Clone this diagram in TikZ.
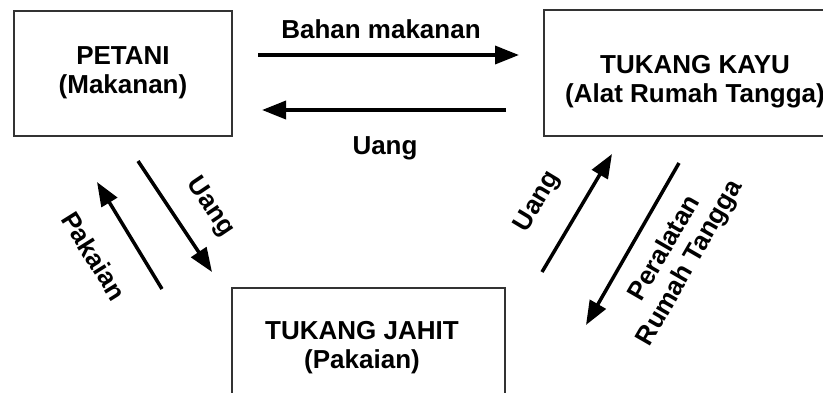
\documentclass[tikz,border=0pt]{standalone}
\usepackage{fontspec}
\setmainfont{Liberation Sans}
\usetikzlibrary{arrows.meta}
\begin{document}
\begin{tikzpicture}[x=1pt,y=-1pt,
  box/.style={draw=black!80, line width=1.4pt, rectangle, inner sep=0pt},
  lbl/.style={font=\fontsize{26}{29}\selectfont\bfseries, align=center, inner sep=0pt},
  flow/.style={line width=3.5pt, -{Triangle[length=24pt,width=18pt]}}]
\clip (0,0) rectangle (823,392);
\useasboundingbox (0,0) rectangle (823,392);
% boxes
\node[box, minimum width=218pt, minimum height=125pt] (petani) at (123,73.5) {};
\node[lbl] (petanitxt) at (123,73) {PETANI\\(Makanan)};
\node[box, minimum width=302pt, minimum height=126pt] (kayu) at (695,73) {};
\node[lbl] (kayutxt) at (695,82) {TUKANG KAYU\\(Alat Rumah Tangga)};
\node[box, minimum width=273pt, minimum height=132pt] (jahit) at (368.5,354) {};
\node[lbl] (jahittxt) at (362,348) {TUKANG JAHIT\\(Pakaian)};
% arrow end points
\coordinate (a1s) at (258,55);  \coordinate (a1e) at (519,55);
\coordinate (a2s) at (506,110); \coordinate (a2e) at (262,110);
\coordinate (a3s) at (138,161); \coordinate (a3e) at (212,272);
\coordinate (a4s) at (162,289); \coordinate (a4e) at (97,182);
\coordinate (a5s) at (542,272); \coordinate (a5e) at (612,154);
\coordinate (a6s) at (679,163); \coordinate (a6e) at (586,325);
\draw[flow] (a1s) -- (a1e);
\draw[flow] (a2s) -- (a2e);
\draw[flow] (a3s) -- (a3e);
\draw[flow] (a4s) -- (a4e);
\draw[flow] (a5s) -- (a5e);
\draw[flow] (a6s) -- (a6e);
% labels
\node[lbl, anchor=base] (l1) at (381,38) {Bahan makanan};
\node[lbl, anchor=base] (l2) at (385,154) {Uang};
\node[lbl, rotate=-56] (l3) at (210,207) {Uang};
\node[lbl, rotate=-58] (l4) at (94,256) {Pakaian};
\node[lbl, rotate=59] (l5) at (538,202) {Uang};
\node[lbl, rotate=60] (l6) at (678,256) {Peralatan\\Rumah Tangga};
\end{tikzpicture}
\end{document}
